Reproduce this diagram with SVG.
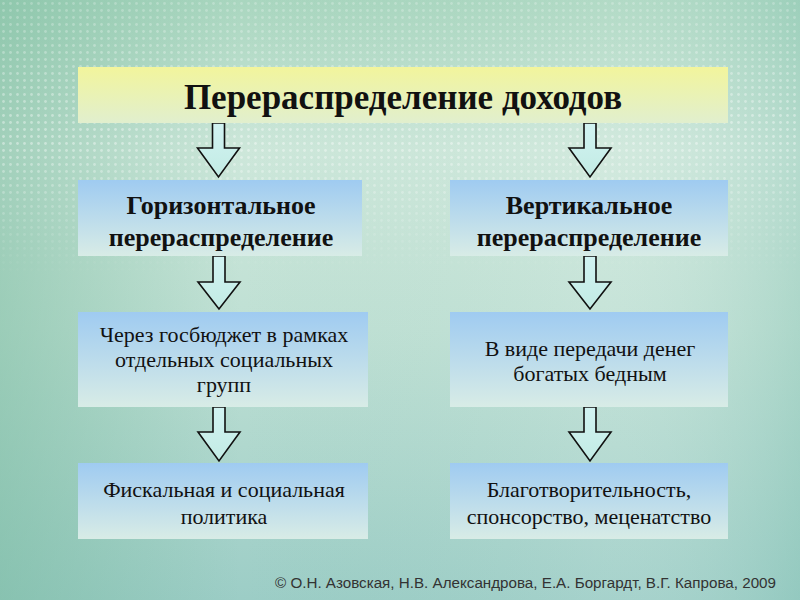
<svg xmlns="http://www.w3.org/2000/svg" width="800" height="600" viewBox="0 0 800 600">
<defs>
<linearGradient id="bg" x1="0" y1="0" x2="0" y2="1">
<stop offset="0" stop-color="#a9d6bf"/>
<stop offset="0.25" stop-color="#cde7da"/>
<stop offset="0.55" stop-color="#bfe0d4"/>
<stop offset="1" stop-color="#9ccdc6"/>
</linearGradient>
<linearGradient id="bgside" x1="0" y1="0" x2="1" y2="0">
<stop offset="0" stop-color="#6fb596" stop-opacity="0.45"/>
<stop offset="0.3" stop-color="#6fb596" stop-opacity="0"/>
<stop offset="0.75" stop-color="#ffffff" stop-opacity="0.1"/>
<stop offset="1" stop-color="#7fc0b0" stop-opacity="0.3"/>
</linearGradient>
<pattern id="dots" width="7" height="7" patternUnits="userSpaceOnUse">
<circle cx="3.5" cy="3.5" r="1.4" fill="#ffffff" fill-opacity="0.45"/>
</pattern>
<linearGradient id="dotfade" x1="0" y1="0" x2="0" y2="1">
<stop offset="0" stop-color="#fff" stop-opacity="0.5"/>
<stop offset="0.5" stop-color="#fff" stop-opacity="0.9"/>
<stop offset="1" stop-color="#fff" stop-opacity="0"/>
</linearGradient>
<mask id="dotmask">
<rect x="0" y="0" width="800" height="280" fill="url(#dotfade)"/>
</mask>
<linearGradient id="title" x1="0" y1="0" x2="0" y2="1">
<stop offset="0" stop-color="#f2f59c"/>
<stop offset="1" stop-color="#e1efce"/>
</linearGradient>
<linearGradient id="box" x1="0" y1="0" x2="0" y2="1">
<stop offset="0" stop-color="#9fcbf1"/>
<stop offset="1" stop-color="#d8ece6"/>
</linearGradient>
<linearGradient id="arr" x1="0" y1="0" x2="0" y2="1">
<stop offset="0" stop-color="#d2f3f2"/>
<stop offset="1" stop-color="#c2ebe4"/>
</linearGradient>
<style>
.box{fill:url(#box)}
.arrow{fill:url(#arr);stroke:#111;stroke-width:1.6;stroke-linejoin:miter}
.t{font-family:"Liberation Serif","Times New Roman",serif;fill:#111;text-anchor:middle}
.b{font-weight:bold;font-size:26px}
.r{font-size:22px}
.h{font-weight:bold;font-size:35px}
.foot{font-family:"Liberation Sans",Arial,sans-serif;font-size:15.2px;fill:#333;text-anchor:end}
</style>
</defs>
<rect width="800" height="600" fill="url(#bg)"/>
<rect width="800" height="600" fill="url(#bgside)"/>
<rect x="0" y="0" width="800" height="280" fill="url(#dots)" mask="url(#dotmask)"/>

<g id="connectors">
<path class="arrow" d="M212.5,123 H224.5 V148 H239.5 L218.5,177 L197.5,148 H212.5 Z"/>
<path class="arrow" d="M584,123 H596 V148 H611 L590,177 L569,148 H584 Z"/>
<path class="arrow" d="M213,256 H225 V282 H240 L219,309 L198,282 H213 Z"/>
<path class="arrow" d="M584,256 H596 V282 H611 L590,309 L569,282 H584 Z"/>
<path class="arrow" d="M213,407 H225 V432 H240 L219,461 L198,432 H213 Z"/>
<path class="arrow" d="M584,407 H596 V432 H611 L590,461 L569,432 H584 Z"/>
</g>

<g id="node-title">
<rect x="78" y="67" width="650" height="56" fill="url(#title)"/>
<text class="t h" x="403" y="109">Перераспределение доходов</text>
</g>
<g id="node-horizontal">
<rect class="box" x="78" y="180" width="284" height="76"/>
<text class="t b" x="221" y="214">Горизонтальное</text>
<text class="t b" x="221" y="246">перераспределение</text>
</g>
<g id="node-vertical">
<rect class="box" x="450" y="180" width="278" height="76"/>
<text class="t b" x="589" y="214">Вертикальное</text>
<text class="t b" x="589" y="246">перераспределение</text>
</g>
<g id="node-budget">
<rect class="box" x="78" y="312" width="290" height="95"/>
<text class="t r" x="224" y="342">Через госбюджет в рамках</text>
<text class="t r" x="224" y="367">отдельных социальных</text>
<text class="t r" x="224" y="392">групп</text>
</g>
<g id="node-transfer">
<rect class="box" x="450" y="312" width="278" height="95"/>
<text class="t r" x="590" y="356">В виде передачи денег</text>
<text class="t r" x="590" y="381">богатых бедным</text>
</g>
<g id="node-fiscal">
<rect class="box" x="78" y="463" width="290" height="76"/>
<text class="t r" x="224" y="497">Фискальная и социальная</text>
<text class="t r" x="224" y="524">политика</text>
</g>
<g id="node-charity">
<rect class="box" x="450" y="463" width="278" height="76"/>
<text class="t r" x="589" y="497">Благотворительность,</text>
<text class="t r" x="589" y="524">спонсорство, меценатство</text>
</g>
<text class="foot" x="776" y="588">© О.Н. Азовская, Н.В. Александрова, Е.А. Боргардт, В.Г. Капрова, 2009</text>
</svg>
